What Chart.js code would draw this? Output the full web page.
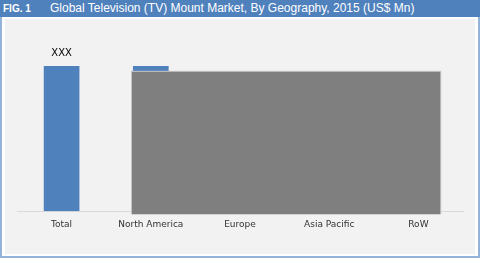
<!DOCTYPE html>
<html>
<head>
<meta charset="utf-8">
<script src="https://cdn.jsdelivr.net/npm/chart.js@4"></script>
<style>
  html, body { margin: 0; padding: 0; }
  body { width: 480px; height: 258px; position: relative; background: #fff; overflow: hidden; font-family: "Liberation Sans", Arial, sans-serif; }
  .frame { position: absolute; left: 0; top: 0; width: 476px; height: 256px; border: 2px solid #95b3d7; border-top: none; background: #fff; }
  .header { position: absolute; left: 0; top: 0; width: 480px; height: 17px; background: #4f81bd; color: #fff; }
  .header .fig { position: absolute; left: 3px; top: 3px; font-size: 10px; font-weight: bold; }
  .header .title { position: absolute; left: 50px; top: 1px; font-size: 12px; }
  .panel { position: absolute; left: 5px; top: 19px; width: 470px; height: 235px; background: #f2f2f2; }
  #chart { position: absolute; left: 0; top: 0; }
</style>
</head>
<body>
<div class="frame"></div>
<div class="header"><span class="fig">FIG. 1</span><span class="title">Global Television (TV) Mount Market, By Geography, 2015 (US$ Mn)</span></div>
<div class="panel"></div>
<canvas id="chart" width="480" height="258"></canvas>
<script>
const categories = ['Total', 'North America', 'Europe', 'Asia Pacific', 'RoW'];
// only the first two bars are visible, the rest sit behind the grey mask
const values = [100, 100, null, null, null];
const valueLabels = ['XXX', '', '', '', ''];
const maskTop = 96;

const barLabels = {
  id: 'barLabels',
  afterDatasetsDraw(chart) {
    const ctx = chart.ctx;
    const meta = chart.getDatasetMeta(0);
    ctx.save();
    ctx.font = '10px "DejaVu Sans", Verdana, sans-serif';
    ctx.fillStyle = '#000';
    ctx.textAlign = 'center';
    ctx.textBaseline = 'bottom';
    meta.data.forEach((bar, i) => {
      if (valueLabels[i]) ctx.fillText(valueLabels[i], bar.x, bar.y - 8);
    });
    ctx.restore();
  }
};

// grey box hiding the regional bars
const mask = {
  id: 'mask',
  afterDatasetsDraw(chart) {
    const ctx = chart.ctx;
    const x = chart.scales.x;
    const y = chart.scales.y;
    const half = (x.getPixelForValue(1) - x.getPixelForValue(0)) * 0.2;
    const left = x.getPixelForValue(1) - half - 1;
    const right = x.getPixelForValue(4) + half + 4;
    const top = y.getPixelForValue(maskTop);
    const bottom = y.getPixelForValue(0) + 3;
    ctx.save();
    ctx.fillStyle = '#c8c8c8';
    ctx.fillRect(left - 1, top - 1, right - left + 2, bottom - top + 1);
    ctx.fillStyle = '#7f7f7f';
    ctx.fillRect(left, top, right - left, bottom - top);
    ctx.restore();
  }
};

new Chart(document.getElementById('chart'), {
  type: 'bar',
  data: {
    labels: categories,
    datasets: [{
      data: values,
      backgroundColor: '#4f81bd',
      barPercentage: 0.4,
      categoryPercentage: 1
    }]
  },
  options: {
    responsive: false,
    animation: false,
    layout: { padding: { left: 17, right: 17, top: 66, bottom: 20 } },
    plugins: { legend: { display: false }, tooltip: { enabled: false } },
    scales: {
      x: {
        grid: { display: true, drawOnChartArea: false, drawTicks: false },
        border: { color: '#d9d9d9' },
        ticks: { color: '#333333', padding: 8, font: { family: '"DejaVu Sans", Verdana, sans-serif', size: 9 } }
      },
      y: { display: false, min: 0, max: 100 }
    }
  },
  plugins: [barLabels, mask]
});
</script>
</body>
</html>
